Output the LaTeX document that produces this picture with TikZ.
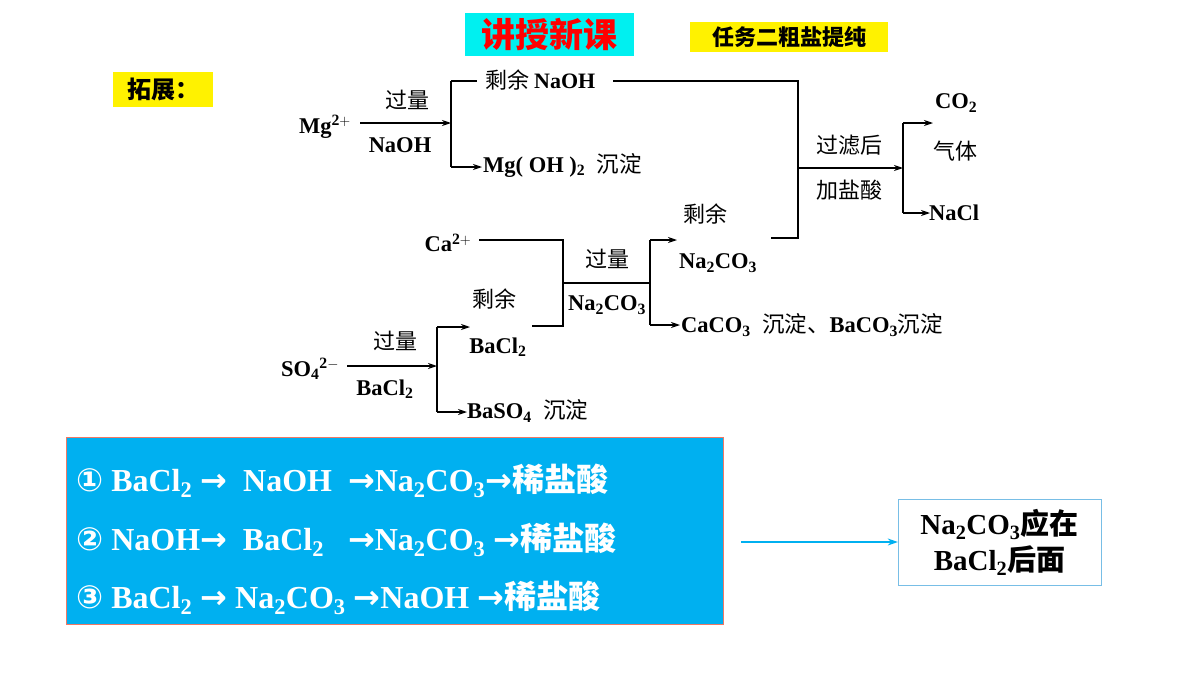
\documentclass[tikz,border=0pt]{standalone}
\usetikzlibrary{arrows.meta}
\usepackage{fontspec}
\setmainfont{Liberation Serif}
\newfontfamily\cjk{Noto Sans CJK SC}
\newfontfamily\sym{DejaVu Sans}
\definecolor{sky}{RGB}{0,176,240}
\definecolor{cyanh}{RGB}{0,240,240}
\definecolor{redb}{RGB}{240,120,100}
\definecolor{lblue}{RGB}{120,190,230}
\begin{document}
\begin{tikzpicture}[x=1pt,y=-1pt,
  ln/.style={line width=1.1pt},
  ar/.style={ln,-{Stealth[length=9pt,width=6pt]}},
  t/.style={font=\fontsize{22.5}{24}\selectfont\bfseries, inner sep=1pt},
  c/.style={font=\fontsize{22}{24}\selectfont\cjk, inner sep=1pt},
  w/.style={font=\fontsize{32}{34}\selectfont\bfseries, text=white, anchor=west, inner sep=0pt}]
\useasboundingbox (0,0) rectangle (1200,675);
% headers
\node[fill=cyanh, text=red, font=\fontsize{34}{38}\selectfont\cjk\bfseries, minimum width=169pt, minimum height=43pt, inner sep=0pt] (h1) at (549.5,34.5) {讲授新课};
\node[fill=yellow, font=\fontsize{22}{26}\selectfont\cjk\bfseries, minimum width=198pt, minimum height=30pt, inner sep=0pt] (h2) at (789,37) {任务二粗盐提纯};
\node[fill=yellow, font=\fontsize{24}{28}\selectfont\cjk\bfseries, minimum width=100pt, minimum height=35pt, inner sep=0pt] (h3) at (163,89.5) {拓展：};
% diagram coordinates
\coordinate (a1) at (360,123); \coordinate (a2) at (451,123);
\coordinate (b1) at (451,81); \coordinate (b2) at (451,167);
\coordinate (b3) at (477,81); \coordinate (b4) at (482,167);
\coordinate (n1) at (613,81); \coordinate (n2) at (798,81);
\coordinate (n3) at (798,238); \coordinate (n4) at (771,238);
\coordinate (m1) at (798,168); \coordinate (m2) at (903,168);
\coordinate (r1) at (903,123); \coordinate (r2) at (903,213);
\coordinate (r3) at (933,123); \coordinate (r4) at (930,213);
\coordinate (c1) at (479,240); \coordinate (c2) at (563,240);
\coordinate (c3) at (563,326); \coordinate (c4) at (532,326);
\coordinate (k1) at (563,283); \coordinate (k2) at (650,283);
\coordinate (p1) at (650,240); \coordinate (p2) at (650,325);
\coordinate (p3) at (677,240); \coordinate (p4) at (680,325);
\coordinate (s1) at (347,366); \coordinate (s2) at (437,366);
\coordinate (q1) at (437,327); \coordinate (q2) at (437,412);
\coordinate (q3) at (470,327); \coordinate (q4) at (467,412);
\coordinate (e1) at (741,542);
% texts
\node[t] (mg) at (325,127) {Mg$^{\mathbf{2+}}$};
\node[c] (g1) at (407,100) {过量};
\node[t] (g2) at (400,145) {NaOH};
\node[c,anchor=west] (sy1) at (484,80) {剩余 \bfseries\rmfamily NaOH};
\node[t,anchor=west] (mgoh) at (482,165) {Mg( OH )$_{\mathbf 2}$ \ {\cjk\mdseries 沉淀}};
\node[c] (gl1) at (849,145) {过滤后};
\node[c] (gl2) at (849,190) {加盐酸};
\node[t,anchor=west] (co2) at (934,103) {CO$_{\mathbf 2}$};
\node[c,anchor=west] (qt) at (932,151) {气体};
\node[t,anchor=west] (nacl) at (928,213) {NaCl};
\node[t] (ca) at (448,243) {Ca$^{\mathbf{2+}}$};
\node[c] (g3) at (607,259) {过量};
\node[t] (g4) at (607,305) {Na$_{\mathbf 2}$CO$_{\mathbf 3}$};
\node[c] (sy2) at (705,214) {剩余};
\node[t] (sn) at (718,263) {Na$_{\mathbf 2}$CO$_{\mathbf 3}$};
\node[t,anchor=west] (caco) at (680,325) {CaCO$_{\mathbf 3}$ \ {\cjk\mdseries 沉淀、}BaCO$_{\mathbf 3}${\cjk\mdseries 沉淀}};
\node[c] (sy3) at (494,299) {剩余};
\node[t] (bacl) at (498,347) {BaCl$_{\mathbf 2}$};
\node[t] (so4) at (310,369) {SO$_{\mathbf 4}$$^{\mathbf{2-}}$};
\node[c] (g5) at (395,341) {过量};
\node[t] (g6) at (385,389) {BaCl$_{\mathbf 2}$};
\node[t,anchor=west] (baso) at (466,411) {BaSO$_{\mathbf 4}$ \ {\cjk\mdseries 沉淀}};
% connectors
\draw[ar] (a1) -- (a2);
\draw[ln] (b1) -- (b2);
\draw[ln] (b1) -- (b3);
\draw[ar] (b2) -- (b4);
\draw[ln] (n1) -- (n2) -- (n3) -- (n4);
\draw[ar] (m1) -- (m2);
\draw[ln] (r1) -- (r2);
\draw[ar] (r1) -- (r3);
\draw[ar] (r2) -- (r4);
\draw[ln] (c1) -- (c2) -- (c3) -- (c4);
\draw[ln] (k1) -- (k2);
\draw[ln] (p1) -- (p2);
\draw[ar] (p1) -- (p3);
\draw[ar] (p2) -- (p4);
\draw[ar] (s1) -- (s2);
\draw[ln] (q1) -- (q2);
\draw[ar] (q1) -- (q3);
\draw[ar] (q2) -- (q4);
% bottom boxes
\node[draw=redb, fill=sky, minimum width=657pt, minimum height=187pt, inner sep=0pt] (box) at (394.5,530.5) {};
\node[w] (l1) at (76,481) {{\sym ①} BaCl$_{\mathbf 2}$ {\sym →}\ \ NaOH \ {\sym →}Na$_{\mathbf 2}$CO$_{\mathbf 3}${\sym →}{\cjk 稀盐酸}};
\node[w] (l2) at (76,540) {{\sym ②} NaOH{\sym →}\ \ BaCl$_{\mathbf 2}$ \ \ {\sym →}Na$_{\mathbf 2}$CO$_{\mathbf 3}$ {\sym →}{\cjk 稀盐酸}};
\node[w] (l3) at (76,598) {{\sym ③} BaCl$_{\mathbf 2}$ {\sym →} Na$_{\mathbf 2}$CO$_{\mathbf 3}$ {\sym →}NaOH {\sym →}{\cjk 稀盐酸}};
\node[draw=lblue, fill=white, minimum width=203pt, minimum height=86pt, align=center, font=\fontsize{29}{36}\selectfont\bfseries, inner sep=0pt] (res) at (999.5,542) {Na$_{\mathbf 2}$CO$_{\mathbf 3}${\cjk 应在}\\BaCl$_{\mathbf 2}${\cjk 后面}};
\draw[line width=1.3pt, sky, -{Stealth[length=10pt,width=7pt]}] (e1) -- (res.west);
\end{tikzpicture}
\end{document}
